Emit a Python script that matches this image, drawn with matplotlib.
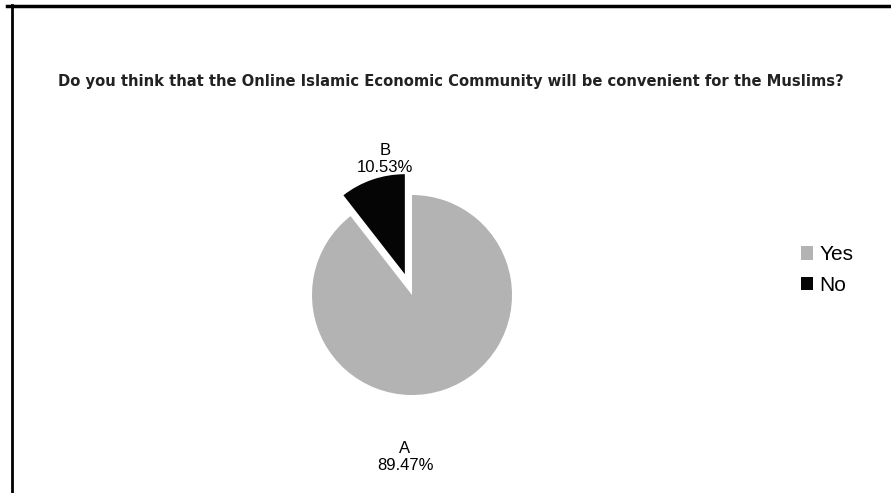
import matplotlib.pyplot as plt
from matplotlib.lines import Line2D
from matplotlib.patches import Patch

plt.rcParams['font.family'] = ['Liberation Sans', 'DejaVu Sans']

# data
kategori = ['Yes', 'No']
label_huruf = ['A', 'B']
persen = [89.47, 10.53]
warna = ['#b3b3b3', '#050505']

fig = plt.figure(figsize=(8.91, 4.93), dpi=100)

# bingkai kiri + atas kayak hasil scan
fig.add_artist(Line2D([12/891, 12/891], [0, 1 - 5/493], color='black', lw=2))
fig.add_artist(Line2D([7/891, 1], [1 - 6/493, 1 - 6/493], color='black', lw=2.5))

fig.text(451/891, 1 - 81/493,
         'Do you think that the Online Islamic Economic Community will be convenient for the Muslims?',
         ha='center', va='center', fontsize=10.6, fontweight='bold', color='#222222',
         family='DejaVu Sans')

# pie
ax = fig.add_axes([287/891, 73/493, 250/891, 250/493])
wedges, _ = ax.pie(persen, colors=warna, startangle=90, counterclock=False,
                   explode=[0, 0.22], radius=1)
ax.set_xlim(-1.25, 1.25)
ax.set_ylim(-1.25, 1.25)
ax.set_aspect('equal')
ax.axis('off')

# label persen
ax.text(-0.27, 1.36, f'{label_huruf[1]}\n{persen[1]:.2f}%', ha='center', va='center',
        fontsize=12, linespacing=1.2)
ax.text(-0.07, -1.62, f'{label_huruf[0]}\n{persen[0]:.2f}%', ha='center', va='center',
        fontsize=12, linespacing=1.2)

# legend
handles = [Patch(facecolor=w, edgecolor='none') for w in warna]
fig.legend(handles, kategori, loc='center left', bbox_to_anchor=(782/891, 1 - 270/493),
           frameon=False, fontsize=15, handlelength=0.6, handleheight=0.6,
           handletextpad=0.3, labelspacing=0.55)

fig.savefig('out.png', dpi=100)
